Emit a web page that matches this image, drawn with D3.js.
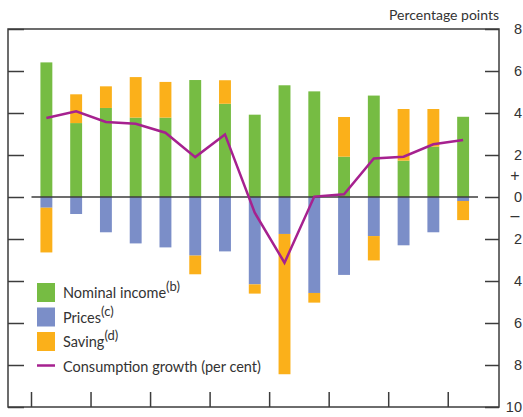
<!DOCTYPE html>
<html>
<head>
<meta charset="utf-8">
<script src="https://cdn.jsdelivr.net/npm/d3@7"></script>
<style>
	body { margin: 0; background: #fff; }
	svg { display: block; font-family: Lato, 'Open Sans', sans-serif; }
</style>
</head>
<body>
<div id="chart"></div>
<script>
// one bar per half-year, contributions in percentage points
let periods  = ['P1','P2','P3','P4','P5','P6','P7','P8','P9','P10','P11','P12','P13','P14','P15'];
let income   = [6.41, 3.52, 4.24, 3.78, 3.78, 5.57, 4.44, 3.92, 5.32, 5.03, 1.92, 4.83, 1.73, 2.40, 3.82];
let prices   = [-0.51, -0.81, -1.68, -2.21, -2.40, -2.79, -2.59, -4.16, -1.76, -4.57, -3.71, -1.86, -2.30, -1.68, -0.19];
let saving   = [-2.13, 1.37, 1.03, 1.93, 1.70, -0.89, 1.12, -0.44, -6.68, -0.46, 1.89, -1.16, 2.46, 1.79, -0.91];
let growth   = [3.76, 4.08, 3.57, 3.49, 3.06, 1.90, 2.98, -0.75, -3.13, 0.02, 0.13, 1.83, 1.92, 2.51, 2.71];
let y_ticks  = [-10, -8, -6, -4, -2, 0, 2, 4, 6, 8];

let colors = { income: '#76bc43', prices: '#7b8ec8', saving: '#fbb01a', line: '#a6218f', axis: '#3c3c3c' };

let legend_items = [
	{ key: 'income', label: 'Nominal income', note: '(b)' },
	{ key: 'prices', label: 'Prices', note: '(c)' },
	{ key: 'saving', label: 'Saving', note: '(d)' },
	{ key: 'line',   label: 'Consumption growth (per cent)', note: '' }
];

let full_width = 523, full_height = 417,
	frame = { left: 8, right: 499, top: 29, bottom: 407 };

let x = d3.scaleBand()
	.domain(periods)
	.range([31.5, 478])
	.paddingInner(0.6)
	.paddingOuter(0.3);

let y = d3.scaleLinear()
	.domain([-10, 8])
	.range([frame.bottom, frame.top]);

// stack each bar: positives up from zero, negatives down from zero
let segments = [];
periods.forEach(function(p, i){
	let pos = 0, neg = 0;
	[['income', income[i]], ['prices', prices[i]], ['saving', saving[i]]].forEach(function(s){
		let v = s[1], y0, y1;
		if (v >= 0) { y0 = pos; y1 = pos + v; pos = y1; }
		else        { y0 = neg; y1 = neg + v; neg = y1; }
		segments.push({ period: p, key: s[0], y0: y0, y1: y1 });
	});
});

let svg = d3.select('#chart')
	.append('svg')
	.attr('width', full_width)
	.attr('height', full_height);

svg.append('g')
	.selectAll('rect')
	.data(segments)
	.enter()
	.append('rect')
	.attr('x', function(d){ return x(d.period); })
	.attr('width', x.bandwidth())
	.attr('y', function(d){ return y(Math.max(d.y0, d.y1)); })
	.attr('height', function(d){ return Math.abs(y(d.y0) - y(d.y1)); })
	.attr('fill', function(d){ return colors[d.key]; });

// zero line
svg.append('line')
	.attr('x1', x.range()[0]).attr('x2', x.range()[1])
	.attr('y1', y(0)).attr('y2', y(0))
	.attr('stroke', colors.axis)
	.attr('stroke-width', 1.5);

// frame
svg.append('rect')
	.attr('x', frame.left).attr('y', frame.top)
	.attr('width', frame.right - frame.left)
	.attr('height', frame.bottom - frame.top)
	.attr('fill', 'none')
	.attr('stroke', colors.axis)
	.attr('stroke-width', 1.5);

let yLeft = d3.axisLeft(y)
	.tickValues(y_ticks)
	.tickSizeInner(-16)
	.tickSizeOuter(0)
	.tickFormat('');

svg.append('g')
	.attr('class', 'axis axis--left')
	.attr('transform', 'translate(' + frame.left + ',0)')
	.call(yLeft);

let yRight = d3.axisRight(y)
	.tickValues(y_ticks)
	.tickSizeInner(-14)
	.tickSizeOuter(0)
	.tickPadding(23)
	.tickFormat(function(d){ return Math.abs(d); });

let gr = svg.append('g')
	.attr('class', 'axis axis--right')
	.attr('transform', 'translate(' + frame.right + ',0)')
	.call(yRight);

gr.selectAll('text')
	.attr('text-anchor', 'end')
	.attr('fill', '#333')
	.style('font-size', '14.5px');

svg.selectAll('.axis .domain').remove();
svg.selectAll('.axis line')
	.attr('stroke', colors.axis)
	.attr('stroke-width', 1.5);

gr.append('text')
	.attr('x', 16).attr('y', y(0) - 16)
	.attr('text-anchor', 'middle')
	.attr('fill', '#333')
	.style('font-size', '16px')
	.text('+');

gr.append('text')
	.attr('x', 16).attr('y', y(0) + 24)
	.attr('text-anchor', 'middle')
	.attr('fill', '#333')
	.style('font-size', '16px')
	.text('–');

// bottom ticks at the year boundaries
let year_starts = periods.filter(function(p, i){ return i % 2 == 0; });
svg.append('g')
	.selectAll('line')
	.data(year_starts)
	.enter()
	.append('line')
	.attr('x1', function(d){ return x(d) - x.step() * x.paddingOuter(); })
	.attr('x2', function(d){ return x(d) - x.step() * x.paddingOuter(); })
	.attr('y1', frame.bottom - 15)
	.attr('y2', frame.bottom)
	.attr('stroke', colors.axis)
	.attr('stroke-width', 1.5);

let line = d3.line()
	.x(function(d, i){ return x(periods[i]) + x.bandwidth() / 2; })
	.y(function(d){ return y(d); });

svg.append('path')
	.datum(growth)
	.attr('fill', 'none')
	.attr('stroke', colors.line)
	.attr('stroke-width', 2.5)
	.attr('stroke-linejoin', 'miter')
	.attr('d', line);

svg.append('text')
	.attr('x', frame.right)
	.attr('y', 20)
	.attr('text-anchor', 'end')
	.attr('fill', '#333')
	.style('font-size', '14px')
	.text('Percentage points');

// legend
let legend = svg.append('g')
	.attr('transform', 'translate(37,283)');

let item = legend.selectAll('.legend-item')
	.data(legend_items)
	.enter()
	.append('g')
	.attr('class', 'legend-item')
	.attr('transform', function(d, i){ return 'translate(0,' + (i * 24.5) + ')'; });

item.filter(function(d){ return d.key != 'line'; })
	.append('rect')
	.attr('width', 18)
	.attr('height', 19)
	.attr('fill', function(d){ return colors[d.key]; });

item.filter(function(d){ return d.key == 'line'; })
	.append('line')
	.attr('x1', 0).attr('x2', 18)
	.attr('y1', 9).attr('y2', 9)
	.attr('stroke', colors.line)
	.attr('stroke-width', 2.5);

let label = item.append('text')
	.attr('x', 26)
	.attr('y', 15)
	.attr('fill', '#333')
	.style('font-size', '14.5px');

label.append('tspan').text(function(d){ return d.label; });
label.append('tspan')
	.attr('dy', -7)
	.style('font-size', '13px')
	.text(function(d){ return d.note; });
</script>
</body>
</html>
